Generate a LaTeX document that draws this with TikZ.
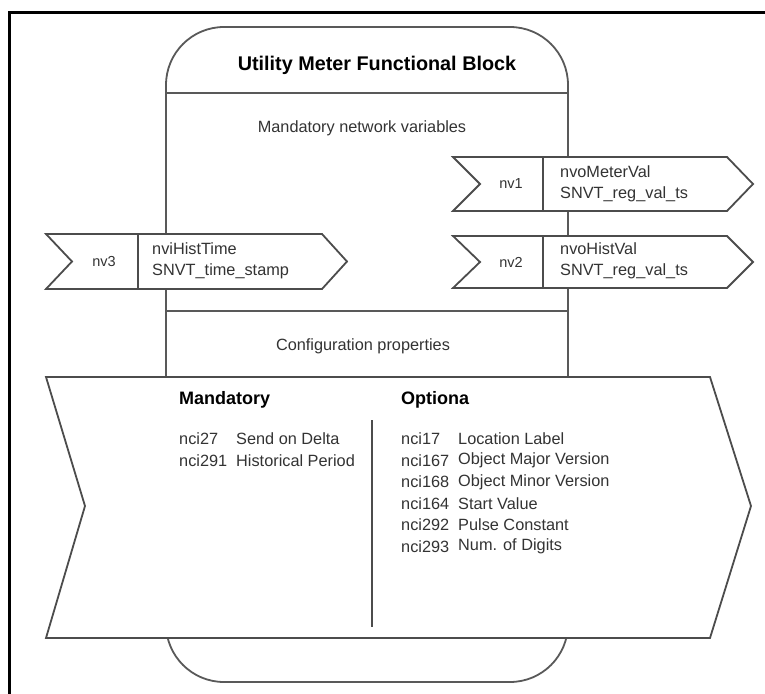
\documentclass[tikz,border=0pt]{standalone}
\usepackage{fontspec}
\setmainfont{Liberation Sans}
\begin{document}
\begin{tikzpicture}[x=1pt,y=-1pt,
  frame/.style={line width=3pt,black},
  blockline/.style={line width=1.8pt,black!65},
  chev/.style={line width=1.8pt,black!70,fill=white,line join=miter},
  divline/.style={line width=1.5pt,black!70},
  txt/.style={inner sep=0pt,text=black!80,font=\fontsize{16.3}{19}\selectfont},
  small/.style={inner sep=0pt,text=black!80,font=\fontsize{14.5}{17}\selectfont},
  head/.style={inner sep=0pt,text=black,font=\fontsize{18}{21}\selectfont\bfseries},
  title/.style={inner sep=0pt,text=black,font=\fontsize{19.8}{23}\selectfont\bfseries}]
\useasboundingbox (0,0) rectangle (765,693);
% outer frame (top and left edges visible)
\coordinate (fTR) at (770,13);
\coordinate (fTL) at (9,13);
\coordinate (fBL) at (9,700);
\draw[frame] (fTR) -- (fTL) -- (fBL);

% functional block
\draw[blockline,rounded corners=58pt] (166,27) rectangle (568,682);
\coordinate (l1w) at (166,93);  \coordinate (l1e) at (568,93);
\coordinate (l2w) at (166,311); \coordinate (l2e) at (568,311);
\draw[blockline] (l1w) -- (l1e);
\draw[blockline] (l2w) -- (l2e);

\node[title] (ttl) at (377,65) {Utility Meter Functional Block};
\node[txt] (mnv) at (362,128) {Mandatory network variables};
\node[txt] (cfg) at (363,346) {Configuration properties};

% nv1
\draw[chev] (453,157) -- (727,157) -- (753,184) -- (727,211) -- (453,211) -- (480,184) -- cycle;
\coordinate (d1t) at (543,157); \coordinate (d1b) at (543,211);
\draw[divline] (d1t) -- (d1b);
\node[small] (nv1) at (511,184) {nv1};
\node[txt,anchor=west] (nv1a) at (560,172) {nvoMeterVal};
\node[txt,anchor=west] (nv1b) at (560,194) {SNVT\_reg\_val\_ts};

% nv2
\draw[chev] (453,236) -- (727,236) -- (753,262) -- (727,288) -- (453,288) -- (480,262) -- cycle;
\coordinate (d2t) at (543,236); \coordinate (d2b) at (543,288);
\draw[divline] (d2t) -- (d2b);
\node[small] (nv2) at (511,262) {nv2};
\node[txt,anchor=west] (nv2a) at (560,249) {nvoHistVal};
\node[txt,anchor=west] (nv2b) at (560,271) {SNVT\_reg\_val\_ts};

% nv3
\draw[chev] (46,234) -- (322,234) -- (347,261.5) -- (322,289) -- (46,289) -- (72,261.5) -- cycle;
\coordinate (d3t) at (138,234); \coordinate (d3b) at (138,289);
\draw[divline] (d3t) -- (d3b);
\node[small] (nv3) at (104,262) {nv3};
\node[txt,anchor=west] (nv3a) at (152,249) {nviHistTime};
\node[txt,anchor=west] (nv3b) at (152,271) {SNVT\_time\_stamp};

% configuration properties chevron
\draw[chev] (46,377) -- (710,377) -- (751,506) -- (710,638) -- (46,638) -- (85,506) -- cycle;
\coordinate (cvt) at (372,420); \coordinate (cvb) at (372,627);
\draw[divline] (cvt) -- (cvb);

\node[head,anchor=west] (hm) at (179,400) {Mandatory};
\node[head,anchor=west] (ho) at (401,400) {Optiona};

\node[txt,anchor=west] (m1a) at (179,439) {nci27};
\node[txt,anchor=west] (m1b) at (236,439) {Send on Delta};
\node[txt,anchor=west] (m2a) at (179,460.5) {nci291};
\node[txt,anchor=west] (m2b) at (236,460.5) {Historical Period};

\node[txt,anchor=west] (o1a) at (401,439) {nci17};
\node[txt,anchor=west] (o1b) at (458,439) {Location Label};
\node[txt,anchor=west] (o2a) at (401,460.5) {nci167};
\node[txt,anchor=west] (o2b) at (458,460.5) {Object Major Version};
\node[txt,anchor=west] (o3a) at (401,482) {nci168};
\node[txt,anchor=west] (o3b) at (458,482) {Object Minor Version};
\node[txt,anchor=west] (o4a) at (401,503.5) {nci164};
\node[txt,anchor=west] (o4b) at (458,503.5) {Start Value};
\node[txt,anchor=west] (o5a) at (401,525) {nci292};
\node[txt,anchor=west] (o5b) at (458,525) {Pulse Constant};
\node[txt,anchor=west] (o6a) at (401,546.5) {nci293};
\node[txt,anchor=west] (o6b) at (458,546.5) {Num. of Digits};
\end{tikzpicture}
\end{document}
